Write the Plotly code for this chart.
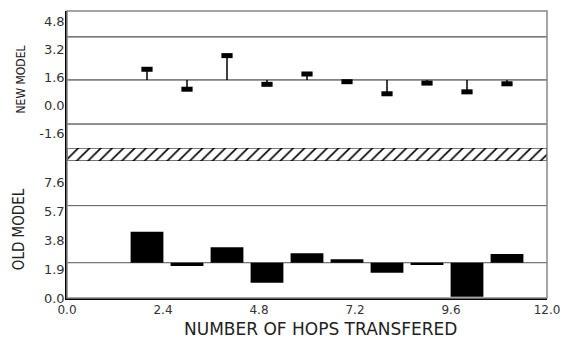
import plotly.graph_objects as go

# ---- data ----
hops = [2, 3, 4, 5, 6, 7, 8, 9, 10, 11]
new_model = [2.04, 0.90, 2.82, 1.18, 1.77, 1.33, 0.64, 1.25, 0.75, 1.21]
old_model = [4.38, 2.12, 3.35, 1.01, 2.95, 2.56, 1.67, 2.18, 0.09, 2.91]
new_center = 1.43
new_limits = [3.89, -1.09]
old_center = 2.33
old_limits = [6.10]
x_ticks = [0.0, 2.4, 4.8, 7.2, 9.6, 12.0]
new_ticks = [-1.6, 0.0, 1.6, 3.2, 4.8]
old_ticks = [0.0, 1.9, 3.8, 5.7, 7.6]
x_range = [0.0, 12.0]
x_title = "NUMBER OF HOPS TRANSFERED"

TICK_FONT = dict(family="DejaVu Sans", size=13, color="#333333")
XTICK_FONT = dict(family="DejaVu Sans", size=12, color="#333333")
YTITLE_FAMILY = "Liberation Sans Narrow, DejaVu Sans Condensed, Liberation Sans"

fig = go.Figure()

# hatched separator band
fig.add_trace(go.Bar(
    x=[(x_range[0] + x_range[1]) / 2], y=[1], width=[x_range[1] - x_range[0]],
    yaxis="y3", xaxis="x",
    marker=dict(color="white", line=dict(color="black", width=1),
                pattern=dict(shape="/", fgcolor="black", bgcolor="white",
                             size=8, solidity=0.2)),
    showlegend=False, hoverinfo="skip"))

# new model stems
sx, sy = [], []
for h, v in zip(hops, new_model):
    sx += [h, h, None]
    sy += [new_center, v, None]
fig.add_trace(go.Scatter(x=sx, y=sy, mode="lines", yaxis="y", xaxis="x",
                         line=dict(color="black", width=1.5),
                         showlegend=False, hoverinfo="skip"))
fig.add_trace(go.Scatter(x=hops, y=new_model, mode="markers", yaxis="y", xaxis="x",
                         marker=dict(symbol="line-ew", size=8,
                                     line=dict(color="black", width=5)),
                         showlegend=False))

# old model bars
fig.add_trace(go.Bar(x=hops, y=[v - old_center for v in old_model], base=old_center,
                     width=0.82, yaxis="y2", xaxis="x",
                     marker=dict(color="black", line=dict(width=0)),
                     showlegend=False))

shapes = []
for yv in [new_center] + new_limits:
    shapes.append(dict(type="line", xref="x", yref="y", x0=x_range[0], x1=x_range[1],
                       y0=yv, y1=yv, line=dict(color="#222222", width=1), layer="below"))
for yv in [old_center] + old_limits:
    shapes.append(dict(type="line", xref="x", yref="y2", x0=x_range[0], x1=x_range[1],
                       y0=yv, y1=yv, line=dict(color="#555555", width=1), layer="below"))
shapes.append(dict(type="rect", xref="paper", yref="paper", x0=0, x1=1, y0=0, y1=1,
                   line=dict(color="#888888", width=1.5)))

fmt = lambda v: f"{v:.1f}"

common_y = dict(anchor="x", tickfont=TICK_FONT, showgrid=False, zeroline=False,
                showline=True, linecolor="black", linewidth=1.5, ticks="",
                automargin=False, ticklabelstandoff=-2)

fig.update_layout(
    template="none",
    width=564, height=338,
    margin=dict(l=67, r=17, t=11, b=40),
    paper_bgcolor="white", plot_bgcolor="white",
    barmode="overlay",
    shapes=shapes,
    annotations=[dict(text=x_title, xref="paper", yref="paper", x=0.529, y=-0.108,
                      xanchor="center", yanchor="middle", showarrow=False,
                      font=dict(family="DejaVu Sans", size=17, color="#222222"))],
    xaxis=dict(range=x_range, anchor="y2", tickvals=x_ticks,
               ticktext=[fmt(v) for v in x_ticks], tickfont=XTICK_FONT,
               showgrid=False, zeroline=False, showline=True,
               linecolor="black", linewidth=1.5, ticks="", automargin=False,
               ticklabeloverflow="allow", ticklabelstandoff=0),
    yaxis=dict(domain=[0.5226, 1.0], range=[-2.46, 5.37],
               tickvals=new_ticks, ticktext=[fmt(v) for v in new_ticks],
               title=dict(text="NEW MODEL",
                          font=dict(family=YTITLE_FAMILY, size=12, color="#222222"),
                          standoff=11), **common_y),
    yaxis2=dict(domain=[0.0, 0.4774], range=[0.0, 9.05],
                tickvals=old_ticks, ticktext=[fmt(v) for v in old_ticks],
                title=dict(text="OLD MODEL",
                           font=dict(family=YTITLE_FAMILY, size=15, color="#222222"),
                           standoff=16), **common_y),
    yaxis3=dict(domain=[0.4774, 0.5226], range=[0, 1], anchor="x",
                showticklabels=False, showgrid=False, zeroline=False,
                showline=True, linecolor="black", linewidth=1.5, ticks="",
                automargin=False),
)

fig.write_html("out.html", config={"displayModeBar": False},
               post_script="document.body.style.margin='0';document.body.style.overflow='hidden';")
